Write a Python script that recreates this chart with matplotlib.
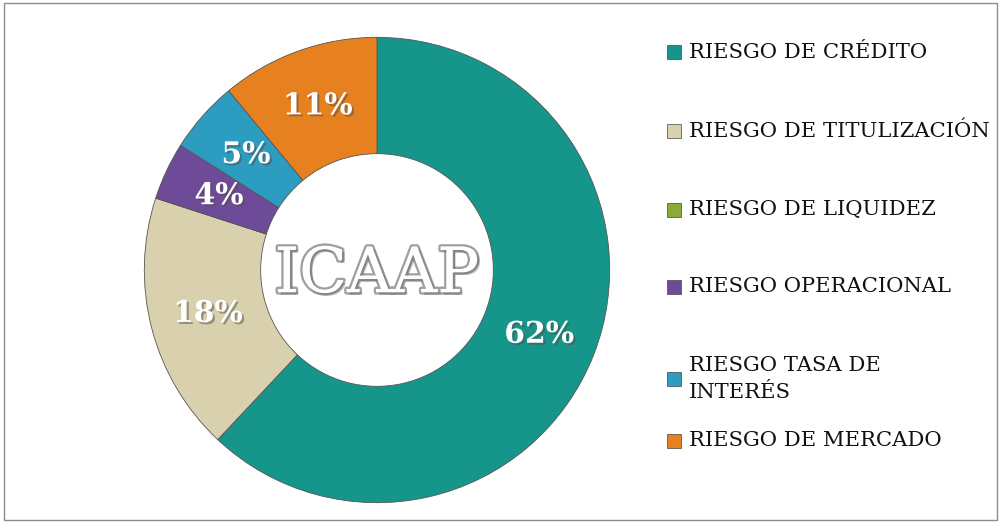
import matplotlib.pyplot as plt
import matplotlib.patheffects as pe
from matplotlib.patches import Rectangle
import numpy as np

# datos del gráfico
categorias = ["RIESGO DE CRÉDITO", "RIESGO DE TITULIZACIÓN", "RIESGO DE LIQUIDEZ",
              "RIESGO OPERACIONAL", "RIESGO TASA DE\nINTERÉS", "RIESGO DE MERCADO"]
valores = [62, 18, 0, 4, 5, 11]
colores = ["#16968a", "#d9d1ad", "#8aab3a", "#6e4b98", "#2c9dc0", "#e7811f"]
titulo_centro = "ICAAP"

fuente = ["DejaVu Serif"]

fig = plt.figure(figsize=(10.02, 5.23), dpi=100)
fig.patches.append(Rectangle((0.004, 0.006), 0.991, 0.988, transform=fig.transFigure,
                             fill=False, edgecolor="#8c8c8c", linewidth=1))

ax = fig.add_axes([142 / 1002, 18 / 523, 470 / 1002, 470 / 523])
wedges, _ = ax.pie(valores, colors=colores, startangle=90, counterclock=False,
                   radius=1.0, wedgeprops=dict(width=0.5, edgecolor="#555555", linewidth=0.6))
ax.set_aspect("equal")

# etiquetas de porcentaje
total = sum(valores)
angulo = 90
for v in valores:
    if v == 0:
        continue
    medio = angulo - v / total * 360 / 2
    angulo -= v / total * 360
    x = 0.75 * np.cos(np.radians(medio))
    y = 0.75 * np.sin(np.radians(medio))
    ax.text(x, y, f"{v}%", ha="center", va="center", color="white", fontsize=21.5,
            fontweight="bold", family=fuente,
            path_effects=[pe.withSimplePatchShadow(offset=(1.5, -1.5), alpha=0.5)])

ax.text(0, -0.02, titulo_centro, ha="center", va="center", fontsize=45, color="white",
        family=fuente,
        path_effects=[pe.withStroke(linewidth=3.5, foreground="#a0a0a0"),
                      pe.withSimplePatchShadow(offset=(2, -2), alpha=0.3)])
ax.set_xlim(-1.01, 1.01)
ax.set_ylim(-1.01, 1.01)

# leyenda manual
filas_y = [52, 131, 210, 287, 379, 441]
for cat, col, yy in zip(categorias, colores, filas_y):
    yf = 1 - yy / 523
    fig.patches.append(Rectangle((667 / 1002, yf - 7 / 523), 14 / 1002, 14 / 523,
                                 transform=fig.transFigure, facecolor=col,
                                 edgecolor="#444444", linewidth=0.5))
    fig.text(689 / 1002, yf, cat, ha="left", va="center", fontsize=15.2,
             family=fuente, color="#111111", linespacing=1.5)

fig.savefig("out.png", dpi=100)
